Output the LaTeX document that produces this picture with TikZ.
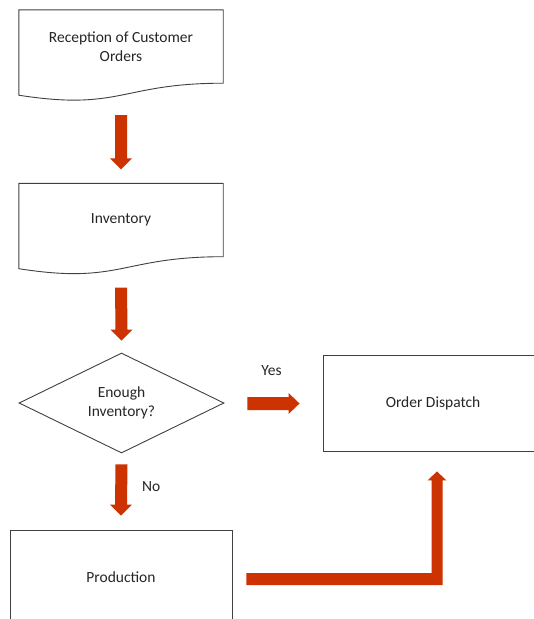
\documentclass[tikz,border=0pt]{standalone}
\usepackage{fontspec}
\setmainfont{Carlito}
\usetikzlibrary{shapes.geometric,calc}
\definecolor{arrowred}{RGB}{204,51,0}
\definecolor{edgegray}{RGB}{64,64,64}
\definecolor{textgray}{RGB}{38,38,38}
\begin{document}
\begin{tikzpicture}[x=1pt,y=-1pt,
  every node/.style={font=\fontsize{15.5}{19.5}\selectfont, text=textgray, align=center, inner sep=0pt},
  docbox/.style={minimum width=204pt, minimum height=73pt},
  procbox/.style={draw=edgegray, line width=0.9pt},
  decision/.style={diamond, draw=edgegray, line width=0.9pt, minimum width=205pt, minimum height=96pt},
  blockfill/.style={fill=arrowred, draw=none},
  downarrow/.style={to path={($(\tikztostart)+(-6,0)$) -- ($(\tikztotarget)+(-6,-11)$) -- ($(\tikztotarget)+(-11,-11)$) -- (\tikztotarget) -- ($(\tikztotarget)+(11,-11)$) -- ($(\tikztotarget)+(6,-11)$) -- ($(\tikztostart)+(6,0)$) -- cycle}},
  rightarrow/.style={to path={($(\tikztostart)+(0,-6.5)$) -- ($(\tikztotarget)+(-11,-6.5)$) -- ($(\tikztotarget)+(-11,-10.5)$) -- (\tikztotarget) -- ($(\tikztotarget)+(-11,10.5)$) -- ($(\tikztotarget)+(-11,6.5)$) -- ($(\tikztostart)+(0,6.5)$) -- cycle}},
  docoutline/.style={draw=edgegray, line width=0.9pt, line join=miter}
]
\fill[white] (0,0) rectangle (534,619);
\clip (0,0) rectangle (534,619);
\useasboundingbox (0,0) rectangle (534,619);

\node[docbox] (orders) at (121,46.5) {Reception of Customer\\Orders};
\draw[docoutline] (orders.north west) -- (orders.north east) -- (orders.south east)
  .. controls (orders.south) and ($(orders.south)+(0,28)$) .. ($(orders.south west)+(0,12)$) -- cycle;

\node[docbox] (inv) at (121,220) {Inventory};
\draw[docoutline] (inv.north west) -- (inv.north east) -- (inv.south east)
  .. controls (inv.south) and ($(inv.south)+(0,28)$) .. ($(inv.south west)+(0,12)$) -- cycle;

\node[decision] (enough) at (121.5,403) {Enough\\Inventory?};
\node[procbox, minimum width=220pt, minimum height=96pt] (dispatch) at (433,403) {Order Dispatch};
\node[procbox, minimum width=222pt, minimum height=94pt] (prod) at (121,577) {Production};

% connectors
\fill[blockfill] ($(orders.south)+(0,32)$) to[downarrow] ($(inv.north)+(0,-14)$);
\fill[blockfill] ($(inv.south)+(0,31)$) to[downarrow] ($(enough.north)+(0,-12)$);
\fill[blockfill] ($(enough.east)+(23,0.5)$) to[rightarrow] ($(dispatch.west)+(-23,0.5)$);
\node (yes) at ($(enough.east)!0.5!(dispatch.west)+(-2,-32)$) {Yes};
\fill[blockfill] ($(enough.south)+(0,11)$) to[downarrow] ($(prod.north)+(0,-14)$);
\node (no) at ($(enough.south)!0.5!(prod.north)+(30,-5)$) {No};

% bent connector Production -> Order Dispatch
\coordinate (bs) at ($(prod.east)+(14,2)$);
\coordinate (bt) at ($(dispatch.south)+(4,20)$);
\fill[blockfill] ($(bs)+(0,-6)$) -- ($(bs -| bt)+(-5.5,-6)$) -- ($(bt)+(-5.5,9)$) -- ($(bt)+(-9.5,9)$) -- (bt)
  -- ($(bt)+(9.5,9)$) -- ($(bt)+(5.5,9)$) -- ($(bs -| bt)+(5.5,6)$) -- ($(bs)+(0,6)$) -- cycle;
\end{tikzpicture}
\end{document}
